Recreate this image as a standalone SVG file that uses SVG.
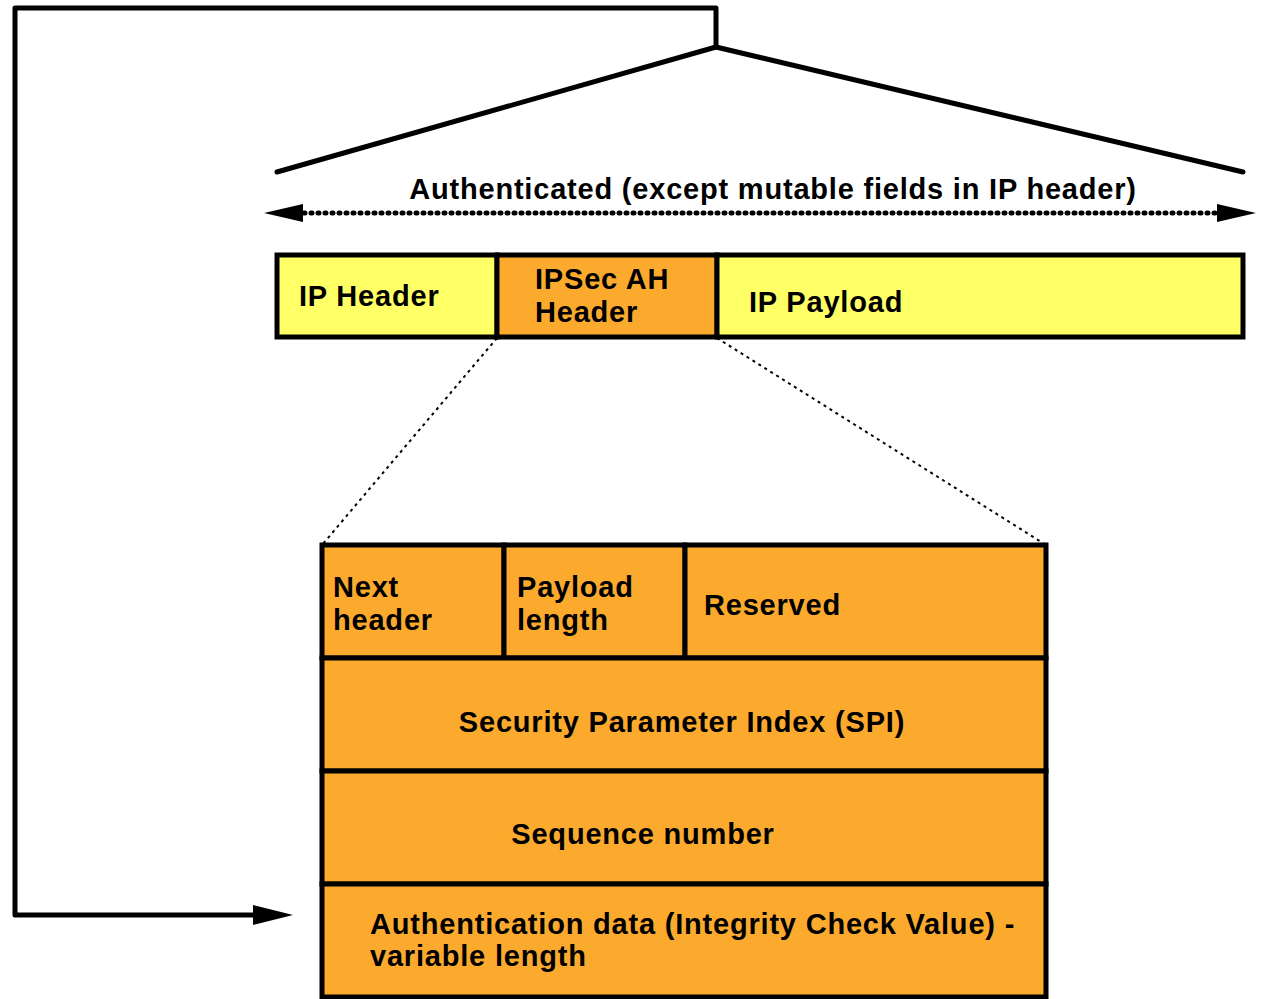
<svg xmlns="http://www.w3.org/2000/svg" width="1261" height="999" viewBox="0 0 1261 999">
<defs>
<style>
text{font-family:"Liberation Sans",Arial,sans-serif;font-weight:bold;font-size:29px;letter-spacing:0.8px;fill:#000}
.box{stroke:#000;stroke-width:5}
.y{fill:#FFFF66}
.o{fill:#FCAA2E}
.ln{fill:none;stroke:#000;stroke-width:5;stroke-linecap:round;stroke-linejoin:round}
.dot{fill:none;stroke:#000;stroke-width:2;stroke-dasharray:3 4}
.dash{fill:none;stroke:#000;stroke-width:5;stroke-linecap:round;stroke-dasharray:1 6}
</style>
</defs>
<g id="connectors">
<path class="ln" d="M716,47 L716,8 L15,8 L15,915 L258,915"/>
<path d="M253,905 L293,915 L253,925 Z" fill="#000"/>
<path class="ln" d="M277,172 L716,47 L1243,172"/>
<line class="dash" x1="304" y1="213" x2="1218" y2="213"/>
<path d="M303,204 L264,213 L303,222 Z" fill="#000"/>
<path d="M1217,204 L1256,213 L1217,222 Z" fill="#000"/>
<line class="dot" x1="497" y1="338" x2="322" y2="545"/>
<line class="dot" x1="717" y1="338" x2="1046" y2="545"/>
</g>
<g id="label-auth"><text x="773" y="199" text-anchor="middle">Authenticated (except mutable fields in IP header)</text></g>
<g id="ip-header"><rect class="box y" x="277" y="255" width="220" height="82"/><text x="299" y="306">IP Header</text></g>
<g id="ah-header"><rect class="box o" x="497" y="255" width="220" height="82"/><text x="535" y="289">IPSec AH</text><text x="535" y="322">Header</text></g>
<g id="ip-payload"><rect class="box y" x="717" y="255" width="526" height="82"/><text x="749" y="312">IP Payload</text></g>
<g id="next-header"><rect class="box o" x="322" y="545" width="182" height="113"/><text x="333" y="597">Next</text><text x="333" y="630">header</text></g>
<g id="payload-length"><rect class="box o" x="504" y="545" width="181" height="113"/><text x="517" y="597">Payload</text><text x="517" y="630">length</text></g>
<g id="reserved"><rect class="box o" x="685" y="545" width="361" height="113"/><text x="704" y="615">Reserved</text></g>
<g id="spi"><rect class="box o" x="322" y="658" width="724" height="113"/><text x="682" y="732" text-anchor="middle">Security Parameter Index (SPI)</text></g>
<g id="seq"><rect class="box o" x="322" y="771" width="724" height="113"/><text x="643" y="844" text-anchor="middle">Sequence number</text></g>
<g id="icv"><rect class="box o" x="322" y="884" width="724" height="113"/><text x="370" y="934">Authentication data (Integrity Check Value) -</text><text x="370" y="966">variable length</text></g>
</svg>
